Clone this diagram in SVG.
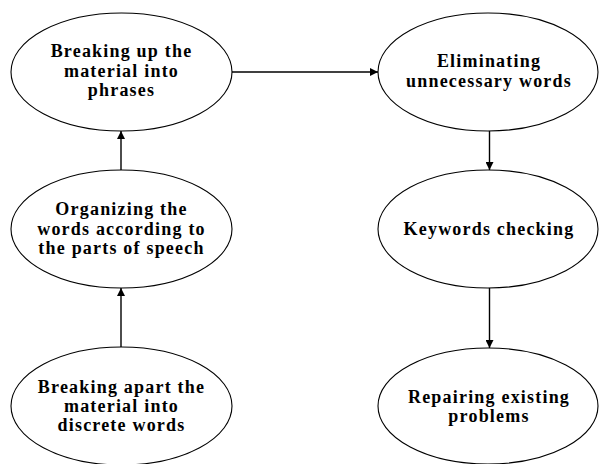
<svg xmlns="http://www.w3.org/2000/svg" width="599" height="464" viewBox="0 0 599 464">
<style>
.node ellipse{fill:#fff;stroke:#000;stroke-width:1.1}
.node text{font-family:"Liberation Serif","Times New Roman",serif;font-weight:bold;font-size:18px;letter-spacing:1.2px;text-anchor:middle;fill:#000}
.conn line{stroke:#000;stroke-width:1.4}
</style>
<defs>
<marker id="ah" viewBox="0 0 10 10" refX="10" refY="5" markerWidth="11" markerHeight="8" markerUnits="userSpaceOnUse" orient="auto">
<path d="M0,0 L10,5 L0,10 z" fill="#000"/>
</marker>
</defs>
<rect width="599" height="464" fill="#fff"/>
<g class="conn">
<line x1="232" y1="72" x2="378" y2="72" marker-end="url(#ah)"/>
<line x1="121" y1="170" x2="121" y2="131" marker-end="url(#ah)"/>
<line x1="121" y1="347" x2="121" y2="288" marker-end="url(#ah)"/>
<line x1="489.5" y1="131" x2="489.5" y2="170" marker-end="url(#ah)"/>
<line x1="489.5" y1="288" x2="489.5" y2="348" marker-end="url(#ah)"/>
</g>
<g id="n1" class="node">
<ellipse cx="121.5" cy="72" rx="110.5" ry="59"/>
<text x="121.5" y="57">Breaking up the</text>
<text x="121.5" y="77">material into</text>
<text x="121.5" y="96">phrases</text>
</g>
<g id="n2" class="node">
<ellipse cx="121.5" cy="229" rx="110.5" ry="59"/>
<text x="121.5" y="215">Organizing the</text>
<text x="121.5" y="235">words according to</text>
<text x="121.5" y="254">the parts of speech</text>
</g>
<g id="n3" class="node">
<ellipse cx="121.5" cy="406" rx="110.5" ry="59"/>
<text x="121.5" y="393">Breaking apart the</text>
<text x="121.5" y="412">material into</text>
<text x="121.5" y="431">discrete words</text>
</g>
<g id="n4" class="node">
<ellipse cx="488" cy="72" rx="110" ry="59"/>
<text x="489" y="67">Eliminating</text>
<text x="489" y="87">unnecessary words</text>
</g>
<g id="n5" class="node">
<ellipse cx="488" cy="229" rx="110" ry="59"/>
<text x="489" y="235">Keywords checking</text>
</g>
<g id="n6" class="node">
<ellipse cx="488" cy="406" rx="110" ry="58"/>
<text x="489" y="403">Repairing existing</text>
<text x="489" y="422">problems</text>
</g>
</svg>
